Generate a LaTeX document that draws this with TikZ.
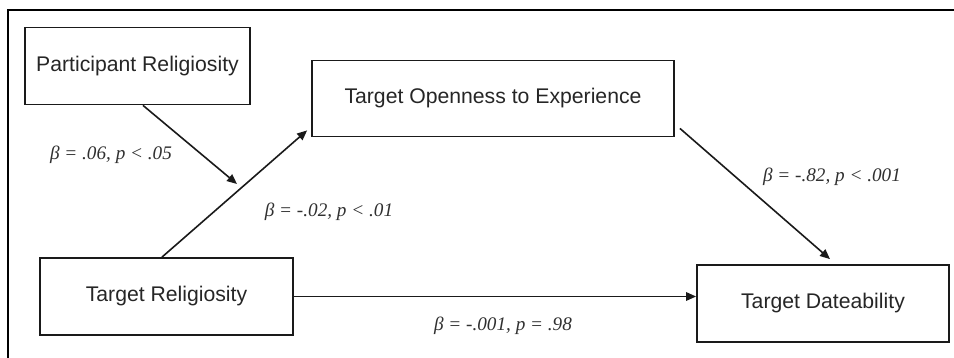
\documentclass[tikz,border=0pt]{standalone}
\usepackage{fontspec}
\setmainfont{Liberation Sans}
\newfontfamily\labfont{Liberation Serif}
\usetikzlibrary{arrows.meta,calc}
\definecolor{boxtext}{HTML}{262626}
\definecolor{labtext}{HTML}{303030}
\definecolor{linec}{HTML}{1A1A1A}
\tikzset{
  varbox/.style={draw=linec, line width=1.8pt, rectangle, inner sep=0pt,
    text=boxtext, font=\fontsize{21.2}{24}\selectfont},
  pathlab/.style={text=labtext, inner sep=0pt,
    font=\labfont\itshape\fontsize{19.2}{22}\selectfont},
  conn/.style={draw=linec, line width=1.6pt, -{Triangle[length=10pt,width=8.5pt]}},
}
\begin{document}
\begin{tikzpicture}[x=1pt,y=-1pt]
\useasboundingbox (0,0) rectangle (954,358);
% outer frame (top and left edges only)
\draw[line width=2.6pt, black] (8,358) -- (8,10) -- (954,10);

\node[varbox, minimum width=225pt, minimum height=77pt] (PR) at (137.5,66) {Participant Religiosity};
\node[varbox, minimum width=362pt, minimum height=76pt] (TO) at (493,98.5) {Target Openness to Experience};
\node[varbox, minimum width=253pt, minimum height=77pt] (TR) at (166.5,296.5) {Target Religiosity};
\node[varbox, minimum width=252pt, minimum height=77pt] (TD) at (823,303.5) {Target Dateability};

\coordinate (mod) at (237,184);
\draw[conn] ($(PR.south)+(5.5,0)$) -- (mod);
\draw[conn] ($(TR.north)+(-4.5,0)$) -- ($(TO.south west)+(-4,-7)$);
\draw[conn] ($(TO.south east)+(5,-9)$) -- ($(TD.north)+(7,-5)$);
\draw[conn] (TR.east) -- (TR.east -| TD.west);

\node[pathlab] (l1) at (111,155) {β = .06, p < .05};
\node[pathlab] (l2) at (329,212) {β = -.02, p < .01};
\node[pathlab] (l3) at (832,177) {β = -.82, p < .001};
\node[pathlab] (l4) at (503,326) {β = -.001, p = .98};
\end{tikzpicture}
\end{document}
